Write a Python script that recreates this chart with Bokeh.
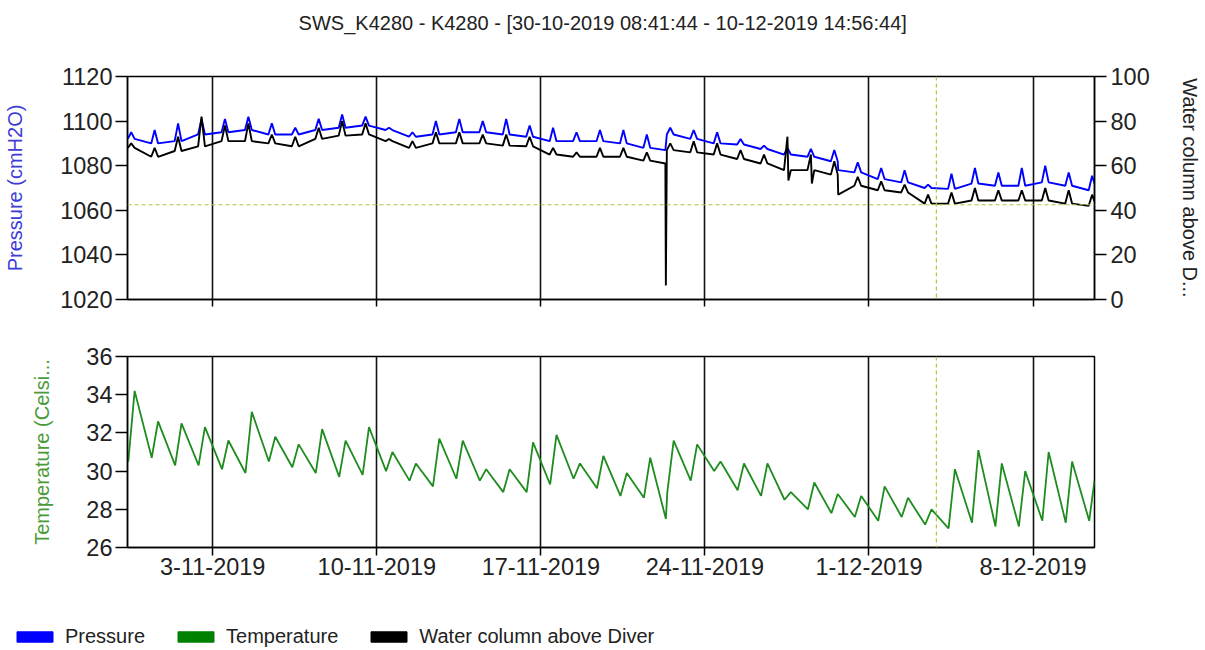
import pandas as pd
from bokeh.plotting import figure
from bokeh.layouts import column, row
from bokeh.models import Range1d, LinearAxis, FixedTicker, Span, Label, Legend, LegendItem
from bokeh.embed import file_html
from bokeh.resources import INLINE

# ---------------- data ----------------
title_text = "SWS_K4280 - K4280 -  [30-10-2019 08:41:44 - 10-12-2019 14:56:44]"
start_time = "2019-10-30 08:41:44"
end_time = "2019-12-10 14:56:44"
first_day = "2019-10-30"

tick_dates = ["2019-11-03", "2019-11-10", "2019-11-17", "2019-11-24", "2019-12-01", "2019-12-08"]
tick_labels = ["3-11-2019", "10-11-2019", "17-11-2019", "24-11-2019", "1-12-2019", "8-12-2019"]
pressure_ticks = [1020, 1040, 1060, 1080, 1100, 1120]
water_ticks = [0, 20, 40, 60, 80, 100]
temp_ticks = [26, 28, 30, 32, 34, 36]

# daily pressure (cmH2O): level around the daily spike, and the spike top
pressure_base = [1092, 1090, 1091, 1094, 1095, 1096, 1094, 1094, 1096, 1097,
                 1098, 1096, 1093, 1094, 1095, 1095, 1094, 1093, 1091, 1091,
                 1091, 1090, 1088, 1094, 1092, 1090, 1089.5, 1087.5, 1085, 1084,
                 1082, 1077, 1074, 1072.5, 1070, 1069.6, 1072, 1071, 1071, 1072.5,
                 1071, 1069]
pressure_peak = [1095, 1096, 1099, 1101, 1101, 1102, 1099, 1097, 1101, 1103,
                 1102, 1097, 1095, 1100, 1101, 1100, 1101, 1098, 1097, 1095,
                 1096, 1096, 1094, 1097, 1096, 1095, 1092, 1089, 1088, 1087.5,
                 1087, 1081.5, 1079, 1078, 1071.5, 1076.4, 1079, 1077, 1079, 1080,
                 1077, 1075.5]
pressure_end = 1072
pressure_event_times = ["2019-11-22 07:30", "2019-11-29 16:30"]
pressure_event_values = [1087, 1078]

# daily water column above diver (cm)
water_base = [68, 64, 66.6, 68.7, 71, 71, 70, 68.7, 72, 73.5,
              74, 71, 68, 70, 70, 70, 69, 68.7, 65, 64,
              64, 64, 62.3, 67, 66, 65, 63, 61, 58, 58,
              56, 51, 49, 48, 43, 43, 44.4, 44.4, 44.4, 44.4,
              43, 42]
water_peak = [70, 68, 73, 82, 78, 79, 74, 73, 77, 80,
              79, 72, 71, 75, 75, 74, 74, 73, 68, 66,
              68, 68, 66, 70, 71, 70, 67, 65, 73, 65,
              62, 55, 53, 51.5, 47, 48, 50, 49, 49, 50,
              49, 47]
water_end = 44
water_event_times = ["2019-11-22 07:30", "2019-11-22 08:00", "2019-11-27 13:30",
                     "2019-11-28 13:30", "2019-11-29 16:30"]
water_event_values = [61, 6.3, 53.4, 52, 47]

# daily temperature (Celsius): morning minimum and afternoon peak
temp_min = [30.5, 30.7, 30.3, 30.3, 30.1, 29.9, 30.5, 30.2, 29.9, 29.7,
            29.8, 30.0, 29.5, 29.2, 29.6, 29.5, 28.9, 28.9, 29.3, 29.6,
            29.1, 28.7, 28.6, 28.9, 29.5, 30.0, 29.0, 28.7, 28.5, 28.0,
            27.8, 27.6, 27.4, 27.6, 27.2, 27.0, 27.3, 27.1, 27.1, 27.4,
            27.3, 27.4]
temp_peak = [34.2, 32.6, 32.5, 32.3, 31.6, 33.1, 31.8, 31.4, 32.2, 31.6,
             32.3, 31.0, 30.4, 31.7, 31.6, 30.1, 30.1, 31.5, 31.9, 30.4,
             30.8, 29.9, 30.7, 31.6, 31.4, 30.5, 30.4, 30.4, 28.9, 29.4,
             28.8, 28.7, 29.2, 28.6, 28.0, 30.1, 31.1, 30.4, 30.0, 31.0,
             30.5]
temp_end = 29.5
temp_event_times = ["2019-11-22 08:00"]
temp_event_values = [27.5]

ref_level = 1062.5
ref_time = "2019-12-03 21:00"

series_names = ["Pressure", "Temperature", "Water column above Diver"]
series_colors = ["#0000ff", "#008000", "#000000"]

# ---------------- helpers ----------------
FONT = "Liberation Sans"
NAN = float("nan")


def ms(s):
    return pd.Timestamp(s).value / 1e6


days = pd.date_range(first_day, periods=len(pressure_base), freq="D")


def at(d, h):
    return (d + pd.Timedelta(hours=h)).value / 1e6


def spike_series(base, peak, end_val, ev_t, ev_v):
    pts = []
    n = len(base)
    for i, d in enumerate(days):
        pts.append((at(d, 9), base[i]))
        pts.append((at(d, 12.5), peak[i]))
        if i < n - 1:
            pts.append((at(d, 16), base[i]))
    pts.append((ms(end_time), end_val))
    pts += [(ms(t), v) for t, v in zip(ev_t, ev_v)]
    pts.sort()
    return [p[0] for p in pts], [p[1] for p in pts]


def saw_series(lo, hi, end_val, ev_t, ev_v):
    pts = []
    for i, d in enumerate(days):
        pts.append((at(d, 9.5), lo[i]))
        if i < len(hi):
            pts.append((at(d, 16), hi[i]))
    pts.append((ms(end_time), end_val))
    pts += [(ms(t), v) for t, v in zip(ev_t, ev_v)]
    pts.sort()
    return [p[0] for p in pts], [p[1] for p in pts]


px, py = spike_series(pressure_base, pressure_peak, pressure_end,
                      pressure_event_times, pressure_event_values)
wx, wy = spike_series(water_base, water_peak, water_end,
                      water_event_times, water_event_values)
tx, ty = saw_series(temp_min, temp_peak, temp_end, temp_event_times, temp_event_values)

tick_ms = [int(ms(t)) for t in tick_dates]
overrides = {t: lab for t, lab in zip(tick_ms, tick_labels)}
blank_overrides = {t: "" for t in tick_ms}

x_range = Range1d(ms(start_time), ms(end_time))

W = 1205
BL, BR = 127, 111
GRID = "#111111"
DASH = "#a8c93a"
TICKC = "#222222"
TICK_FS = "23.5px"


def style_axis(ax):
    ax.major_label_text_font = FONT
    ax.major_label_text_font_size = TICK_FS
    ax.major_label_text_color = TICKC
    ax.axis_line_color = "black"
    ax.axis_line_width = 1.5
    ax.major_tick_line_color = "black"
    ax.major_tick_line_width = 1.5
    ax.major_tick_in = 0
    ax.minor_tick_line_color = None
    ax.axis_label_text_font = FONT
    ax.axis_label_text_font_size = "20px"
    ax.axis_label_text_font_style = "normal"


def bare_figure(height, left, right):
    f = figure(width=W, height=height, x_range=Range1d(0, 1), y_range=Range1d(0, 1),
               output_backend="svg", toolbar_location=None,
               x_axis_location=None, y_axis_location=None,
               min_border_left=left, min_border_right=right, min_border_top=0, min_border_bottom=0)
    f.outline_line_color = None
    f.xgrid.grid_line_color = None
    f.ygrid.grid_line_color = None
    f.background_fill_color = "white"
    f.border_fill_color = "white"
    return f


# ---------------- title row ----------------
p0 = bare_figure(48, BL, BR)
p0.add_layout(Label(x=478, y=26, x_units="screen", y_units="screen", text=title_text,
                    text_align="center", text_baseline="middle", text_font=FONT,
                    text_font_size="20px", text_color=TICKC))

# ---------------- top panel ----------------
p1 = figure(width=W, height=280, x_range=x_range, y_range=Range1d(1020, 1120),
            x_axis_type="datetime", output_backend="svg", toolbar_location=None,
            min_border_left=BL, min_border_right=BR, min_border_top=28, min_border_bottom=29)
p1.extra_y_ranges = {"water": Range1d(0, 100)}
p1.outline_line_color = "black"
p1.outline_line_width = 1.5
p1.background_fill_color = "white"
p1.border_fill_color = "white"

r_press = p1.line(px, py, line_color=series_colors[0], line_width=1.9)
r_water = p1.line(wx, wy, line_color=series_colors[2], line_width=1.9, y_range_name="water")

p1.xgrid.ticker = FixedTicker(ticks=tick_ms)
p1.xgrid.grid_line_color = GRID
p1.xgrid.grid_line_width = 1.6
p1.ygrid.grid_line_color = None

xa1 = p1.xaxis[0]
xa1.ticker = FixedTicker(ticks=tick_ms)
style_axis(xa1)
xa1.major_label_overrides = blank_overrides
xa1.major_tick_out = 7

ya1 = p1.yaxis[0]
ya1.ticker = FixedTicker(ticks=pressure_ticks)
style_axis(ya1)
ya1.major_tick_out = 12
ya1.major_label_standoff = 3
ya1.axis_label = "Pressure (cmH2O)"
ya1.axis_label_text_color = "#3c3cd8"
ya1.axis_label_standoff = 31

ra1 = LinearAxis(y_range_name="water", ticker=FixedTicker(ticks=water_ticks),
                 axis_label="Water column above D...")
style_axis(ra1)
ra1.major_tick_out = 12
ra1.major_label_standoff = 4
ra1.axis_label_text_color = TICKC
ra1.axis_label_standoff = 26
p1.add_layout(ra1, "right")

p1.add_layout(Span(location=ref_level, dimension="width", line_color=DASH,
                   line_dash="4 3", line_width=1.2))
p1.add_layout(Span(location=ms(ref_time), dimension="height", line_color=DASH,
                   line_dash="4 3", line_width=1.2))

# ---------------- bottom panel ----------------
p2 = figure(width=W, height=292, x_range=x_range, y_range=Range1d(26, 36),
            x_axis_type="datetime", output_backend="svg", toolbar_location=None,
            min_border_left=BL, min_border_right=BR, min_border_top=28, min_border_bottom=73)
p2.outline_line_color = "black"
p2.outline_line_width = 1.5
p2.background_fill_color = "white"
p2.border_fill_color = "white"

r_temp = p2.line(tx, ty, line_color="#1e8c1e", line_width=1.8)

p2.xgrid.ticker = FixedTicker(ticks=tick_ms)
p2.xgrid.grid_line_color = GRID
p2.xgrid.grid_line_width = 1.6
p2.ygrid.grid_line_color = None

xa2 = p2.xaxis[0]
xa2.ticker = FixedTicker(ticks=tick_ms)
style_axis(xa2)
xa2.major_label_overrides = overrides
xa2.major_tick_out = 8
xa2.major_label_standoff = 2

ya2 = p2.yaxis[0]
ya2.ticker = FixedTicker(ticks=temp_ticks)
style_axis(ya2)
ya2.major_tick_out = 12
ya2.major_label_standoff = 3
ya2.axis_label = "Temperature (Celsi..."
ya2.axis_label_text_color = "#4a9a3a"
ya2.axis_label_standoff = 30

p2.add_layout(Span(location=ms(ref_time), dimension="height", line_color=DASH,
                   line_dash="4 3", line_width=1.2))

# ---------------- legend row (own figure, frame spans the full width) ----------------
p3 = bare_figure(30, 0, 0)
# one NaN row each: nothing is drawn in the plot, only the legend boxes
swatches = [p3.quad(left=[NAN], right=[NAN], top=[NAN], bottom=[NAN],
                    fill_color=c, line_color=c) for c in series_colors]
legend = Legend(items=[LegendItem(label=n, renderers=[r]) for n, r in zip(series_names, swatches)],
                location=(12, 2), orientation="horizontal",
                glyph_width=45, glyph_height=13, label_standoff=8, spacing=28,
                padding=0, margin=0, border_line_color=None, background_fill_alpha=0,
                label_text_font=FONT, label_text_font_size="20px", label_text_color=TICKC)
p3.add_layout(legend)

layout = column(p0, p1, p2, row(p3))
open("out.html", "w").write(file_html(layout, INLINE))
